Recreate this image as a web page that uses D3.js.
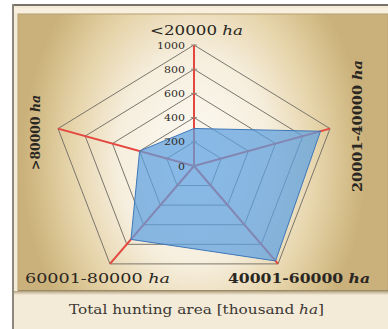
<!DOCTYPE html>
<html>
<head>
<meta charset="utf-8">
<script src="https://cdn.jsdelivr.net/npm/d3@7/dist/d3.min.js"></script>
<style>
  html, body { margin: 0; padding: 0; background: #ffffff; }
  svg { display: block; }
  text { font-family: "DejaVu Serif", "Liberation Serif", serif; fill: #2a2723; }
</style>
</head>
<body>
<svg id="chart" width="388" height="329"></svg>
<script>
// Hunting-ground size classes, clockwise from the top
const categories = ["<20000", "20001-40000", "40001-60000", "60001-80000", ">80000"];
// Value per class (radial scale 0–1000)
const values = [310, 930, 970, 750, 400];
// Radial tick labels
const tickValues = [0, 200, 400, 600, 800, 1000];
const caption = "Total hunting area [thousand ha]";

const W = 388, H = 329;
const cx = 194, cy = 166;
const svg = d3.select("#chart");
const defs = svg.append("defs");

// Panel background: light centre fading to tan at the sides
const grad = defs.append("radialGradient")
  .attr("id", "panelGrad")
  .attr("gradientUnits", "userSpaceOnUse")
  .attr("cx", 0).attr("cy", 0).attr("r", 1)
  .attr("gradientTransform", `translate(${cx},160) scale(172,235)`);
[[0, "#fdfbf6"], [0.45, "#f6eedd"], [0.72, "#e6d4aa"], [0.92, "#d2bb86"], [1, "#cab17c"]]
  .forEach(([o, c]) => grad.append("stop").attr("offset", o).attr("stop-color", c));

const shadow = defs.append("linearGradient").attr("id", "shadowGrad")
  .attr("x1", 0).attr("y1", 0).attr("x2", 0).attr("y2", 1);
shadow.append("stop").attr("offset", 0).attr("stop-color", "#b5a380");
shadow.append("stop").attr("offset", 1).attr("stop-color", "#f2e9d7");

// Frame
svg.append("rect").attr("x", 0).attr("y", 0).attr("width", W).attr("height", H).attr("fill", "#ffffff");
svg.append("rect").attr("x", 12).attr("y", 4).attr("width", W - 12).attr("height", H - 4).attr("fill", "#f3ead8");
svg.append("rect").attr("x", 12).attr("y", 4).attr("width", W - 12).attr("height", 2).attr("fill", "#77716a");
svg.append("rect").attr("x", 12).attr("y", 4).attr("width", 2).attr("height", H - 4).attr("fill", "#8d877c");
svg.append("rect").attr("x", 14).attr("y", 8).attr("width", W - 14).attr("height", 5).attr("fill", "#f8efdf");
svg.append("rect").attr("x", 18).attr("y", 14).attr("width", W - 18).attr("height", 277)
  .attr("fill", "url(#panelGrad)").attr("stroke", "#b8a272").attr("stroke-width", 1);
svg.append("rect").attr("x", 14).attr("y", 291).attr("width", W - 14).attr("height", 4).attr("fill", "url(#shadowGrad)");
svg.append("rect").attr("x", 18).attr("y", 290).attr("width", W - 18).attr("height", 1.2).attr("fill", "#9c8b68");

// Radial scales (the drawing is wider than it is tall)
const rX = d3.scaleLinear().domain([0, 1000]).range([0, 143]);
const rY = d3.scaleLinear().domain([0, 1000]).range([0, 121]);
const angle = d3.scalePoint().domain(categories).range([0, 2 * Math.PI * 4 / 5]);
const px = (cat, v) => cx + rX(v) * Math.sin(angle(cat));
const py = (cat, v) => cy - rY(v) * Math.cos(angle(cat));

const line = d3.line().curve(d3.curveLinearClosed);

// Grid rings
const g = svg.append("g");
tickValues.filter(t => t > 0).forEach(t => {
  g.append("path")
    .attr("d", line(categories.map(c => [px(c, t), py(c, t)])))
    .attr("fill", "none").attr("stroke", "#7a766c").attr("stroke-width", 1);
});

// Spokes
categories.forEach(c => {
  g.append("line")
    .attr("x1", cx).attr("y1", cy)
    .attr("x2", px(c, 1000)).attr("y2", py(c, 1000))
    .attr("stroke", "#e4473f").attr("stroke-width", 2);
});

// Small tick marks on the top spoke
tickValues.forEach(t => {
  g.append("line")
    .attr("x1", px(categories[0], t) - 3).attr("x2", px(categories[0], t) + 3)
    .attr("y1", py(categories[0], t)).attr("y2", py(categories[0], t))
    .attr("stroke", "#8a857b").attr("stroke-width", 1);
});

// Data area
g.append("path")
  .attr("d", line(categories.map((c, i) => [px(c, values[i]), py(c, values[i])])))
  .attr("fill", "#5b9fe0").attr("fill-opacity", 0.72)
  .attr("stroke", "#3f78b8").attr("stroke-width", 1);

// Tick labels
tickValues.forEach(t => {
  svg.append("text")
    .attr("x", px(categories[0], 0) - 9).attr("y", py(categories[0], t))
    .attr("dy", "0.36em").attr("text-anchor", "end")
    .attr("font-size", 10).attr("textLength", String(t).length * 7)
    .attr("lengthAdjust", "spacingAndGlyphs")
    .style("fill", "#2f2b27")
    .text(t);
});

// Category labels
function label(sel, num, bold) {
  sel.attr("font-weight", bold ? "bold" : "normal").attr("lengthAdjust", "spacingAndGlyphs");
  sel.append("tspan").text(num + " ");
  sel.append("tspan").attr("font-style", "italic").text("ha");
  return sel;
}
label(svg.append("text").attr("x", 150).attr("y", 35).attr("font-size", 12.5).attr("textLength", 93), categories[0], false);
label(svg.append("text").attr("transform", "translate(362,192) rotate(-90)").attr("font-size", 13).attr("textLength", 132), categories[1], true);
label(svg.append("text").attr("x", 228).attr("y", 283).attr("font-size", 12.5).attr("textLength", 142), categories[2], true);
label(svg.append("text").attr("x", 25).attr("y", 283).attr("font-size", 12.5).attr("textLength", 145), categories[3], false);
label(svg.append("text").attr("transform", "translate(40,170) rotate(-90)").attr("font-size", 13).attr("textLength", 75), categories[4], true);

// Caption
const cap = svg.append("text").attr("x", 69).attr("y", 314).attr("font-size", 13.5)
  .attr("textLength", 255).attr("lengthAdjust", "spacingAndGlyphs").style("fill", "#3b3833");
cap.append("tspan").text(caption.replace("ha]", ""));
cap.append("tspan").attr("font-style", "italic").text("ha");
cap.append("tspan").text("]");
</script>
</body>
</html>
